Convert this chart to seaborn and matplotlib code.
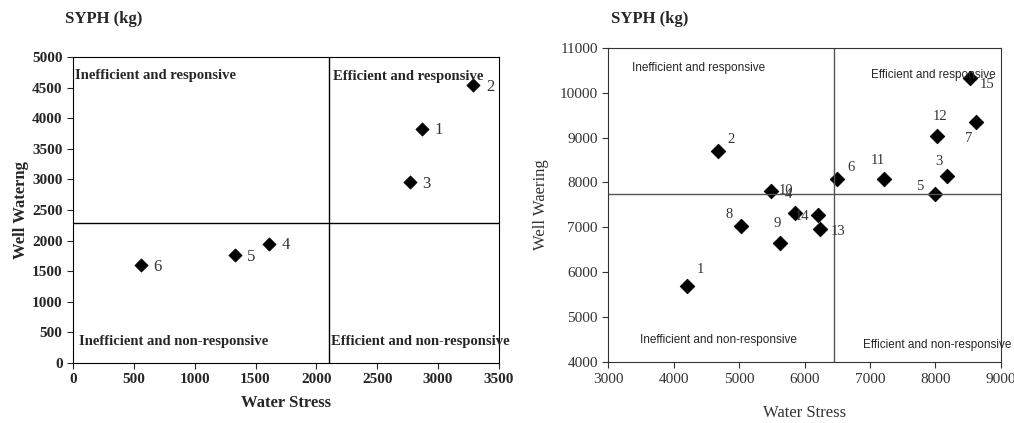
import numpy as np
import pandas as pd
import seaborn as sns
import matplotlib.pyplot as plt

# left panel data
left_id = ["1", "2", "3", "4", "5", "6"]
left_x = [2870, 3290, 2770, 1610, 1330, 560]
left_y = [3830, 4540, 2950, 1950, 1760, 1600]

# right panel data
right_id = ["1", "2", "3", "4", "5", "6", "7", "8", "9", "10", "11", "12", "13", "14", "15"]
right_x = [4200, 4680, 8180, 5860, 8000, 6500, 8620, 5020, 5620, 5480, 7220, 8030, 6230, 6200, 8530]
right_y = [5700, 8700, 8150, 7330, 7750, 8080, 9350, 7030, 6650, 7820, 8080, 9030, 6970, 7280, 10330]
right_off = [(10, 12), (9, 8), (-6, 10), (-5, 13), (-11, 5), (10, 8), (-5, -12), (-8, 8), (-2, 14),
             (11, 0), (-5, 13), (2, 14), (13, -2), (-11, -1), (12, -5)]

sns.set_style("white")
plt.rcParams["font.family"] = ["Liberation Serif", "DejaVu Serif"]

fig = plt.figure(figsize=(10.14, 4.23), dpi=100)
ax1 = fig.add_axes([0.072, 0.142, 0.420, 0.723])
ax2 = fig.add_axes([0.600, 0.144, 0.387, 0.743])

# left
df1 = pd.DataFrame({"x": left_x, "y": left_y, "id": left_id})
sns.scatterplot(data=df1, x="x", y="y", marker="D", s=45, color="black", ax=ax1, edgecolor="black")
for i, r in df1.iterrows():
    ax1.annotate(r["id"], (r["x"], r["y"]), xytext=(9, -4), textcoords="offset points",
                 fontsize=12, color="#333333")
ax1.axvline(2100, color="black", lw=1)
ax1.axhline(2280, color="black", lw=1)
ax1.set_xlim(0, 3500)
ax1.set_ylim(0, 5000)
ax1.set_xticks(range(0, 3501, 500))
ax1.set_yticks(range(0, 5001, 500))
ax1.tick_params(direction="out", length=4, labelsize=11, left=True, bottom=True)
for t in ax1.get_xticklabels() + ax1.get_yticklabels():
    t.set_fontweight("bold")
ax1.set_xlabel("Water Stress", fontsize=12, fontweight="bold", labelpad=6)
ax1.set_ylabel("Well Waterng", fontsize=12, fontweight="bold", labelpad=2)
for s in ax1.spines.values():
    s.set_color("black")
kw = dict(fontsize=10.5, fontweight="bold", transform=ax1.transAxes)
ax1.text(0.005, 0.93, "Inefficient and responsive", **kw)
ax1.text(0.61, 0.925, "Efficient and responsive", **kw)
ax1.text(0.015, 0.06, "Inefficient and non-responsive", **kw)
ax1.text(0.605, 0.06, "Efficient and non-responsive", **kw)
fig.text(0.064, 0.945, "SYPH (kg)", fontsize=12, fontweight="bold")

# right
df2 = pd.DataFrame({"x": right_x, "y": right_y, "id": right_id})
sns.scatterplot(data=df2, x="x", y="y", marker="D", s=55, color="black", ax=ax2, edgecolor="black")
for (i, r), off in zip(df2.iterrows(), right_off):
    ax2.annotate(r["id"], (r["x"], r["y"]), xytext=off, textcoords="offset points",
                 fontsize=10.5, color="#333333", ha="center", va="center")
ax2.axvline(6450, color="#555555", lw=1)
ax2.axhline(7750, color="#555555", lw=1)
ax2.set_xlim(3000, 9000)
ax2.set_ylim(4000, 11000)
ax2.set_xticks(range(3000, 9001, 1000))
ax2.set_yticks(range(4000, 11001, 1000))
ax2.tick_params(direction="out", length=4, labelsize=11, left=True, bottom=True, colors="#333333")
ax2.set_xlabel("Water Stress", fontsize=12, labelpad=14, color="#333333")
ax2.set_ylabel("Well Waering", fontsize=12, labelpad=8, color="#333333")
for s in ax2.spines.values():
    s.set_color("#333333")
kw2 = dict(fontsize=8.5, family=["Liberation Sans Narrow", "Liberation Sans"], transform=ax2.transAxes)
ax2.text(0.06, 0.925, "Inefficient and responsive", **kw2)
ax2.text(0.67, 0.905, "Efficient and responsive", **kw2)
ax2.text(0.08, 0.06, "Inefficient and non-responsive", **kw2)
ax2.text(0.65, 0.045, "Efficient and non-responsive", **kw2)
fig.text(0.603, 0.945, "SYPH (kg)", fontsize=12, fontweight="bold")

fig.savefig("out.png", dpi=100)
